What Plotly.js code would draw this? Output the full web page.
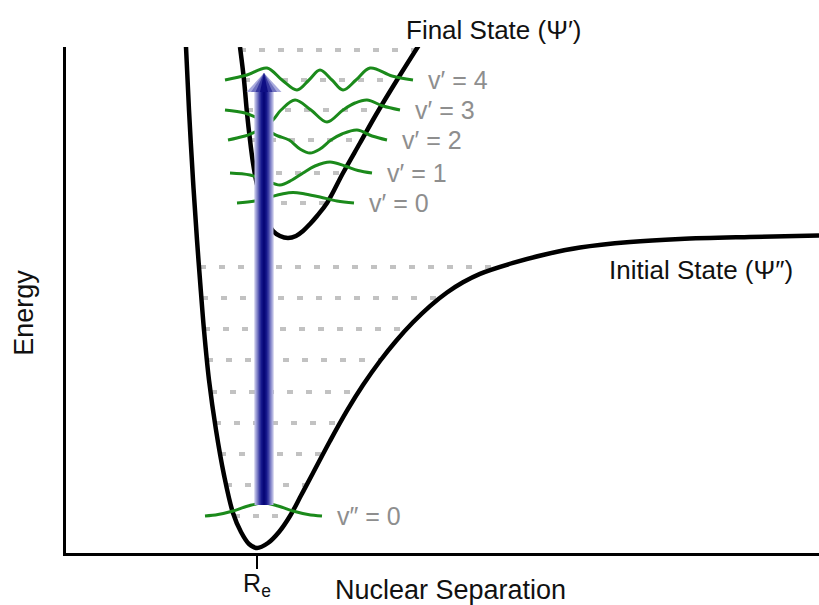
<!DOCTYPE html>
<html>
<head>
<meta charset="utf-8">
<script src="https://cdn.plot.ly/plotly-3.0.1.min.js"></script>
<style>html,body{margin:0;padding:0;background:#fff;}</style>
</head>
<body>
<div id="chart" style="width:819px;height:605px;"></div>
<script>
// Initial (lower) electronic state potential: separation vs energy
const groundR = [1.20, 1.23, 1.27, 1.31, 1.34, 1.38, 1.43, 1.50, 1.58, 1.67, 1.75, 1.83, 1.91,
  2.02, 2.13, 2.24, 2.35, 2.47, 2.64, 2.81, 2.97, 3.14, 3.30, 3.47, 3.64, 3.81, 3.97, 4.14, 4.47, 4.79, 5.14, 5.64, 6.14, 6.84, 7.53];
const groundE = [5.06, 4.43, 3.73, 3.13, 2.73, 2.23, 1.73, 1.23, 0.78, 0.40, 0.21, 0.09, 0.05,
  0.10, 0.21, 0.37, 0.575, 0.80, 1.12, 1.423, 1.679, 1.92, 2.12, 2.307, 2.469, 2.605, 2.707, 2.792, 2.901, 2.985, 3.055, 3.11, 3.14, 3.16, 3.174];

// Final (upper) electronic state potential
const excitedR = [1.74, 1.78, 1.81, 1.84, 1.87, 1.90, 1.94, 1.98, 2.02, 2.07, 2.14, 2.22, 2.30, 2.37, 2.44, 2.51, 2.61, 2.77, 2.94, 3.11, 3.31, 3.53];
const excitedE = [5.06, 4.73, 4.40, 4.13, 3.90, 3.73, 3.57, 3.43, 3.31, 3.22, 3.17, 3.15, 3.17, 3.22, 3.29, 3.37, 3.50, 3.80, 4.10, 4.40, 4.73, 5.08];

// Vibrational levels of the lower state with their classical turning points
const groundLevelE = [0.37, 0.68, 0.99, 1.30, 1.61, 1.93, 2.24, 2.55, 2.86];
const groundLevelInner = [1.68, 1.60, 1.54, 1.49, 1.45, 1.41, 1.38, 1.36, 1.34];
const groundLevelOuter = [2.24, 2.41, 2.57, 2.74, 2.93, 3.14, 3.41, 3.74, 4.35];

// Vibrational levels of the upper state with their turning points
const excitedLevelE = [3.50, 3.80, 4.13, 4.43, 4.73, 5.03];
const excitedLevelInner = [1.96, 1.91, 1.85, 1.81, 1.78, 1.74];
const excitedLevelOuter = [2.61, 2.77, 2.95, 3.12, 3.31, 3.51];

// Vibrational wavefunctions: sample positions and amplitude about each level
const psiGround0R = [1.39, 1.52, 1.67, 1.82, 1.97, 2.12, 2.27, 2.42, 2.56];
const psiGround0A = [0, 0.015, 0.05, 0.10, 0.13, 0.10, 0.05, 0.015, 0];
const psiUpper0R = [1.71, 1.89, 2.04, 2.16, 2.27, 2.39, 2.54, 2.71, 2.88];
const psiUpper0A = [0, 0.02, 0.06, 0.09, 0.105, 0.09, 0.06, 0.02, 0];
const psiUpper1R = [1.64, 1.84, 1.99, 2.14, 2.26, 2.37, 2.49, 2.64, 2.79, 2.92, 3.06];
const psiUpper1A = [0, -0.02, -0.07, -0.12, -0.07, 0, 0.07, 0.11, 0.07, 0.025, 0];
const psiUpper2R = [1.62, 1.79, 1.97, 2.12, 2.23, 2.34, 2.44, 2.54, 2.65, 2.76, 2.91, 3.06, 3.21];
const psiUpper2A = [0, 0.04, 0.10, 0.04, 0, -0.09, -0.13, -0.09, 0, 0.06, 0.10, 0.04, 0];
const psiUpper3R = [1.59, 1.79, 1.92, 2.04, 2.15, 2.29, 2.45, 2.61, 2.77, 2.89, 3.01, 3.17, 3.34];
const psiUpper3A = [0, -0.03, -0.08, -0.12, 0, 0.10, 0, -0.12, 0, 0.07, 0.10, 0.04, 0];
const psiUpper4R = [1.59, 1.81, 2.01, 2.16, 2.31, 2.43, 2.54, 2.66, 2.77, 2.90, 3.04, 3.26, 3.47];
const psiUpper4A = [0, 0.05, 0.12, 0, -0.10, 0, 0.10, 0, -0.10, 0, 0.12, 0.04, 0];

// Level labels
const upperLabels = ['v\u2032 = 0', 'v\u2032 = 1', 'v\u2032 = 2', 'v\u2032 = 3', 'v\u2032 = 4'];
const lowerLabel = 'v\u2033 = 0';

// Vertical transition near the equilibrium separation
const transitionR = 1.98;
const transitionE = [0.48, 4.80];
const equilibriumR = 1.91;

const FONT = 'Liberation Sans, Arial, Helvetica, sans-serif';
const GREEN = '#1b8a1b';
const LABEL_GRAY = '#8e8e8e';

function levelSegments(E, inner, outer) {
  const xs = [], ys = [];
  for (let i = 0; i < E.length; i++) {
    xs.push(inner[i], outer[i], null);
    ys.push(E[i], E[i], null);
  }
  return {xs, ys};
}

const gl = levelSegments(groundLevelE, groundLevelInner, groundLevelOuter);
const el = levelSegments(excitedLevelE, excitedLevelInner, excitedLevelOuter);

const traces = [];
const dotLine = {color: '#c2c2c2', width: 4, dash: '6px,13px'};
traces.push({x: gl.xs, y: gl.ys, mode: 'lines', line: dotLine, hoverinfo: 'skip', showlegend: false});
traces.push({x: el.xs, y: el.ys, mode: 'lines', line: dotLine, hoverinfo: 'skip', showlegend: false});

traces.push({x: groundR, y: groundE, mode: 'lines', line: {color: '#000', width: 4.5, shape: 'spline', smoothing: 1}, showlegend: false, name: 'Initial State'});
traces.push({x: excitedR, y: excitedE, mode: 'lines', line: {color: '#000', width: 4.5, shape: 'spline', smoothing: 1}, showlegend: false, name: 'Final State'});

const waves = [
  {r: psiGround0R, a: psiGround0A, e: groundLevelE[0], label: lowerLabel},
  {r: psiUpper0R, a: psiUpper0A, e: excitedLevelE[0], label: upperLabels[0]},
  {r: psiUpper1R, a: psiUpper1A, e: excitedLevelE[1], label: upperLabels[1]},
  {r: psiUpper2R, a: psiUpper2A, e: excitedLevelE[2], label: upperLabels[2]},
  {r: psiUpper3R, a: psiUpper3A, e: excitedLevelE[3], label: upperLabels[3]},
  {r: psiUpper4R, a: psiUpper4A, e: excitedLevelE[4], label: upperLabels[4]}
];

const annotations = [];
waves.forEach(w => {
  traces.push({
    x: w.r, y: w.a.map(v => w.e + v), mode: 'lines',
    line: {color: GREEN, width: 3, shape: 'spline', smoothing: 1},
    showlegend: false, hoverinfo: 'skip'
  });
  annotations.push({
    x: w.r[w.r.length - 1] + 0.13, y: w.e, xref: 'x', yref: 'y',
    text: w.label, showarrow: false, xanchor: 'left', yanchor: 'middle',
    font: {family: FONT, size: 25, color: LABEL_GRAY}
  });
});

annotations.push({
  x: 0.568, y: 1.034, xref: 'paper', yref: 'paper', text: 'Final State (\u03A8\u2032)', showarrow: false,
  xanchor: 'center', yanchor: 'middle', font: {family: FONT, size: 26, color: '#111'}
});
annotations.push({
  x: 6.35, y: 2.83, xref: 'x', yref: 'y', text: 'Initial State (\u03A8\u2033)', showarrow: false,
  xanchor: 'center', yanchor: 'middle', font: {family: FONT, size: 26, color: '#111'}
});
annotations.push({
  x: 0.51, y: -0.073, xref: 'paper', yref: 'paper', text: 'Nuclear Separation', showarrow: false,
  xanchor: 'center', yanchor: 'middle', font: {family: FONT, size: 27, color: '#111'}
});
annotations.push({
  x: -0.055, y: 0.474, xref: 'paper', yref: 'paper', text: 'Energy', showarrow: false, textangle: -90,
  xanchor: 'center', yanchor: 'middle', font: {family: FONT, size: 27, color: '#111'}
});

// Transition arrow, built from nested bands for a shaded look
const shapes = [];
const headBase = transitionE[1] - 0.19;
const shaftBands = [
  {w: 19, c: '#b3b4e0'}, {w: 15, c: '#7a7cc4'}, {w: 11, c: '#3e40a6'}, {w: 7, c: '#16188c'}, {w: 3, c: '#070779'}
];
shaftBands.forEach(b => {
  shapes.push({type: 'line', xref: 'x', yref: 'y', x0: transitionR, x1: transitionR,
    y0: transitionE[0], y1: headBase, line: {color: b.c, width: b.w}, layer: 'above'});
});
const headBands = [
  {h: 0.175, c: '#a9abdd'}, {h: 0.13, c: '#7072bf'}, {h: 0.085, c: '#34369f'}, {h: 0.04, c: '#0e0e84'}
];
headBands.forEach(b => {
  shapes.push({type: 'path', xref: 'x', yref: 'y', layer: 'above',
    path: `M ${transitionR - b.h},${headBase} L ${transitionR},${transitionE[1]} L ${transitionR + b.h},${headBase} Z`,
    fillcolor: b.c, line: {width: 0}});
});

const layout = {
  width: 819, height: 605,
  margin: {l: 66, r: 0, t: 47, b: 52, pad: 0},
  paper_bgcolor: '#fff', plot_bgcolor: '#fff',
  showlegend: false,
  font: {family: FONT, color: '#111'},
  xaxis: {
    range: [0, 7.53], showgrid: false, zeroline: false,
    showline: true, linecolor: '#000', linewidth: 3,
    tickmode: 'array', tickvals: [equilibriumR], ticktext: ['R<sub>e</sub>'],
    ticks: 'outside', ticklen: 13, tickwidth: 2, tickcolor: '#000',
    ticklabelstandoff: -7,
    tickfont: {family: FONT, size: 25, color: '#111'}, fixedrange: true
  },
  yaxis: {
    range: [0, 5.06], showgrid: false, zeroline: false,
    showline: true, linecolor: '#000', linewidth: 3,
    showticklabels: false, ticks: '', fixedrange: true
  },
  annotations: annotations,
  shapes: shapes
};

Plotly.newPlot('chart', traces, layout, {displayModeBar: false, staticPlot: true});
</script>
</body>
</html>
